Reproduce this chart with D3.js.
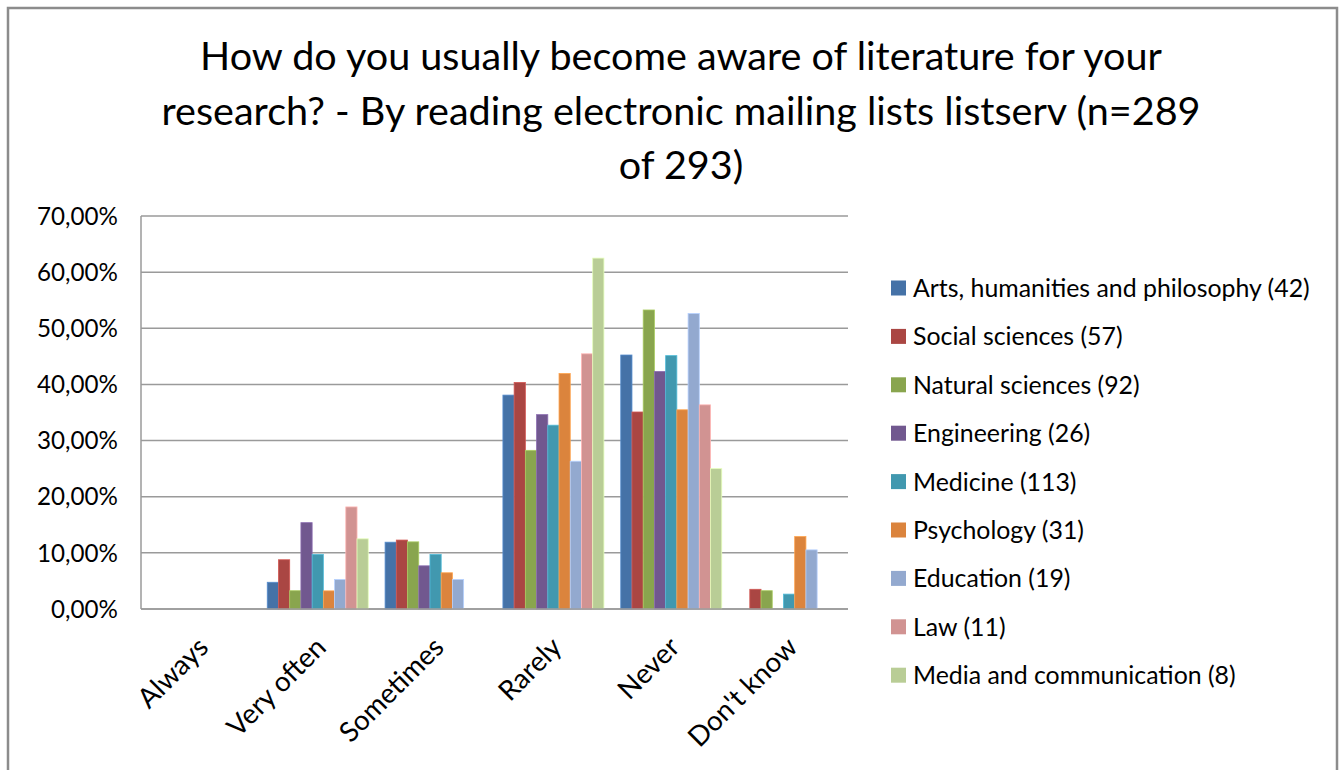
<!DOCTYPE html>
<html>
<head>
<meta charset="utf-8">
<script src="https://cdn.jsdelivr.net/npm/d3@7"></script>
<style>
  html, body { margin: 0; padding: 0; background: #fff; }
  svg { display: block; }
  text { font-family: Lato, "Open Sans", sans-serif; fill: #000; }
</style>
</head>
<body>
<svg id="chart" width="1343" height="770"></svg>
<script>
const titleLines = [
  "How do you usually become  aware of literature for your",
  "research? - By reading electronic mailing lists listserv (n=289",
  "of 293)"
];
const categories = ["Always", "Very often", "Sometimes", "Rarely", "Never", "Don't know"];
const seriesNames = [
  "Arts, humanities and philosophy (42)",
  "Social sciences (57)",
  "Natural sciences (92)",
  "Engineering (26)",
  "Medicine (113)",
  "Psychology (31)",
  "Education (19)",
  "Law (11)",
  "Media and communication (8)"
];
const seriesColors = ["#4572A7", "#AA4643", "#89A54E", "#71588F", "#4198AF", "#DB843D", "#93A9CF", "#D19392", "#B9CD96"];
// values in %, per series, in category order
const arts        = [0, 4.76, 11.90, 38.10, 45.24, 0];
const social      = [0, 8.77, 12.28, 40.35, 35.09, 3.51];
const natural     = [0, 3.26, 11.96, 28.26, 53.26, 3.26];
const engineering = [0, 15.38, 7.69, 34.62, 42.31, 0];
const medicine    = [0, 9.73, 9.73, 32.74, 45.13, 2.65];
const psychology  = [0, 3.23, 6.45, 41.94, 35.48, 12.90];
const education   = [0, 5.26, 5.26, 26.32, 52.63, 10.53];
const law         = [0, 18.18, 0, 45.45, 36.36, 0];
const media       = [0, 12.50, 0, 62.50, 25.00, 0];
const seriesValues = [arts, social, natural, engineering, medicine, psychology, education, law, media];
const yTicks = [0, 10, 20, 30, 40, 50, 60, 70];

(function () {
const svg = d3.select("#chart");

function fitSize(sel, target) {
  const w = sel.node().getComputedTextLength();
  const fs = parseFloat(sel.attr("font-size"));
  return fs * target / w;
}

// outer frame
svg.append("path")
  .attr("d", "M8,772 L8,8 L1337,8 L1337,772")
  .attr("fill", "none").attr("stroke", "#8c8c8c").attr("stroke-width", 2.5);

// title
const titleY = [70, 125, 179];
const probe = svg.append("text").attr("font-size", 36).text(titleLines[0]);
const titleSize = fitSize(probe, 962);
probe.remove();
svg.append("g").selectAll("text").data(titleLines).join("text")
  .attr("x", 681).attr("y", (d, i) => titleY[i])
  .attr("text-anchor", "middle")
  .attr("font-size", titleSize)
  .text(d => d);

// plot area
const pLeft = 141, pRight = 848, pTop = 216, pBottom = 609;
const y = d3.scaleLinear().domain([0, 70]).range([pBottom, pTop]);
const x0 = d3.scaleBand().domain(categories).range([pLeft, pRight]).padding(0);
const gapRatio = 1.5;
const inner = x0.bandwidth() * seriesNames.length / (seriesNames.length + gapRatio);
const x1 = d3.scaleBand().domain(d3.range(seriesNames.length))
  .range([(x0.bandwidth() - inner) / 2, (x0.bandwidth() + inner) / 2]).padding(0);

// gridlines
svg.append("g").selectAll("line").data(yTicks).join("line")
  .attr("x1", pLeft).attr("x2", pRight)
  .attr("y1", d => y(d)).attr("y2", d => y(d))
  .attr("stroke", "#9a9a9a").attr("stroke-width", 1.5);

svg.append("line").attr("x1", pLeft).attr("x2", pLeft).attr("y1", pTop).attr("y2", pBottom)
  .attr("stroke", "#9a9a9a").attr("stroke-width", 1.5);

const fmt = d => d3.format(".2f")(d).replace(".", ",") + "%";
const yp = svg.append("text").attr("font-size", 20).text("70,00%");
const ySize = fitSize(yp, 81);
yp.remove();
svg.append("g").selectAll("text").data(yTicks).join("text")
  .attr("x", 118).attr("y", d => y(d))
  .attr("dy", "0.36em")
  .attr("text-anchor", "end")
  .attr("font-size", ySize)
  .text(fmt);

// bars
const groups = svg.append("g").selectAll("g").data(categories).join("g")
  .attr("transform", c => `translate(${x0(c)},0)`);
groups.selectAll("rect")
  .data((c, ci) => seriesValues.map((vals, si) => ({ si, v: vals[ci] })).filter(d => d.v > 0))
  .join("rect")
  .attr("x", d => x1(d.si))
  .attr("width", x1.bandwidth())
  .attr("y", d => y(d.v))
  .attr("height", d => pBottom - y(d.v))
  .attr("fill", d => seriesColors[d.si])
  .attr("stroke", d => d3.color(seriesColors[d.si]).brighter(0.6))
  .attr("stroke-width", 0.8);

svg.append("line").attr("x1", pLeft).attr("x2", pRight).attr("y1", pBottom).attr("y2", pBottom)
  .attr("stroke", "#9a9a9a").attr("stroke-width", 1.5);

// x labels rotated
const xp = svg.append("text").attr("font-size", 20).text("Sometimes");
const xSize = fitSize(xp, 134);
xp.remove();
svg.append("g").selectAll("text").data(categories).join("text")
  .attr("transform", c => `translate(${x0(c) + x0.bandwidth() / 2 + 10},${pBottom + 40}) rotate(-45)`)
  .attr("text-anchor", "end")
  .attr("font-size", xSize)
  .text(c => c);

// legend
const lp = svg.append("text").attr("font-size", 20).text(seriesNames[0]);
const lSize = fitSize(lp, 397);
lp.remove();
const legend = svg.append("g").selectAll("g").data(seriesNames).join("g")
  .attr("transform", (d, i) => `translate(891,${288 + i * 48.4})`);
legend.append("rect")
  .attr("x", 0).attr("y", -7.5).attr("width", 15).attr("height", 15)
  .attr("fill", (d, i) => seriesColors[i]);
legend.append("text")
  .attr("x", 22).attr("y", 0).attr("dy", "0.36em")
  .attr("font-size", lSize)
  .text(d => d);
})();
</script>
</body>
</html>
